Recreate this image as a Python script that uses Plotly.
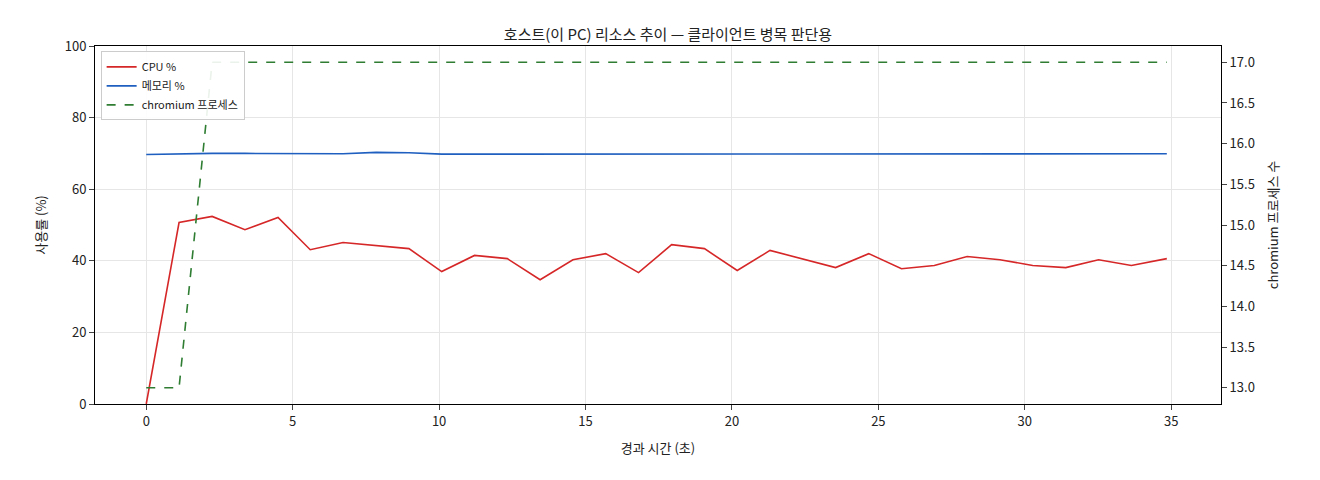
import plotly.graph_objects as go

t = [0, 1.12, 2.25, 3.37, 4.5, 5.6, 6.72, 7.85, 8.97, 10.09, 11.21, 12.33, 13.45, 14.57, 15.69, 16.81,
     17.94, 19.06, 20.18, 21.3, 22.42, 23.54, 24.67, 25.79, 26.91, 28.03, 29.15, 30.27, 31.4, 32.52, 33.64, 34.85]
cpu = [0, 50.7, 52.4, 48.7, 52.1, 43.1, 45.1, 44.3, 43.4, 37.0, 41.5, 40.6, 34.7, 40.3, 42.0, 36.7,
       44.5, 43.4, 37.3, 42.9, 40.6, 38.1, 42.0, 37.8, 38.7, 41.2, 40.3, 38.7, 38.1, 40.3, 38.7, 40.6]
mem = [69.7, 69.9, 70.0, 70.0, 69.9, 70.0, 69.9, 70.3, 70.2, 69.8, 69.8, 69.8, 69.9, 69.9, 70.0, 69.9,
       70.0, 70.0, 70.0, 70.0, 69.9, 70.0, 70.0, 70.0, 69.9, 69.8, 69.9, 69.9, 69.9, 70.0, 69.9, 69.9]
proc = [13, 13] + [17] * 30

fig = go.Figure()
fig.add_trace(go.Scatter(x=t, y=cpu, name="CPU %", mode="lines", line=dict(color="#d62728", width=1.6)))
fig.add_trace(go.Scatter(x=t, y=mem, name="메모리 %", mode="lines", line=dict(color="#1f5fbf", width=1.6)))
fig.add_trace(go.Scatter(x=t, y=proc, name="chromium 프로세스", mode="lines", yaxis="y2",
                         line=dict(color="#2e7d32", width=1.6, dash="dash")))

font = "Noto Sans CJK KR, Noto Sans, sans-serif"
fig.update_layout(
    width=1320, height=480, template="plotly_white",
    font=dict(family=font, size=13, color="#222"),
    title=dict(text="호스트(이 PC) 리소스 추이 — 클라이언트 병목 판단용", x=0.5, xanchor="center", y=0.955, font=dict(size=15)),
    margin=dict(l=87, r=107, t=38, b=84),
    xaxis=dict(title=dict(text="경과 시간 (초)", font=dict(size=13)), range=[-1.75, 36.7], tickvals=[0,5,10,15,20,25,30,35],
               showline=True, linecolor="black", mirror=True, ticks="outside", gridcolor="#e6e6e6", zeroline=False),
    yaxis=dict(title=dict(text="사용률 (%)", font=dict(size=13)), range=[0, 100], dtick=20, showline=True, linecolor="black",
               ticks="outside", gridcolor="#e6e6e6", zeroline=False),
    yaxis2=dict(title=dict(text="chromium 프로세스 수", font=dict(size=13)), overlaying="y", side="right", range=[12.8, 17.2],
                dtick=0.5, tickformat=".1f", showgrid=False, ticks="outside", showline=True, linecolor="black", zeroline=False),
    legend=dict(x=0.005, y=0.985, xanchor="left", yanchor="top", bgcolor="rgba(255,255,255,0.9)",
                bordercolor="#ccc", borderwidth=1, font=dict(size=11)),
)
fig.write_html("out.html")
